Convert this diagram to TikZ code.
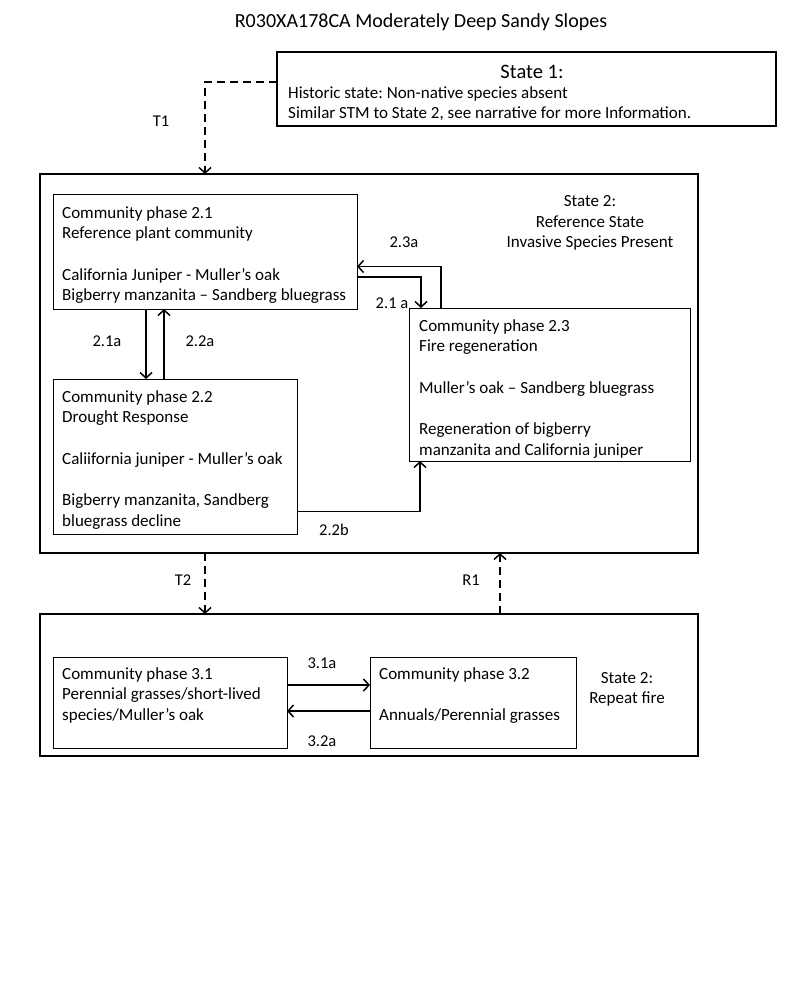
\documentclass[tikz,border=0pt]{standalone}
\usepackage{fontspec}
\setmainfont{Carlito}
\usetikzlibrary{arrows.meta}
\frenchspacing
\begin{document}
\begin{tikzpicture}[x=1pt,y=-1pt,
 statebox/.style={draw, line width=2.6pt, inner sep=0, outer sep=0, anchor=north west},
 phasebox/.style={draw, line width=0.9pt, inner sep=0, outer sep=0, anchor=north west},
 txt/.style={font=\fontsize{17}{20.7}\selectfont, align=left, inner sep=0, anchor=north west},
 ctxt/.style={font=\fontsize{17}{20.3}\selectfont, align=center, inner sep=0},
 lab/.style={font=\fontsize{16.5}{18}\selectfont, inner sep=0},
 arr/.style={line width=1.1pt, -{Straight Barb[length=5.5pt,width=12pt,line width=1.5pt]}},
 darr/.style={arr, line width=1.1pt, dash pattern=on 8pt off 5pt}]
\useasboundingbox[fill=white] (0,0) rectangle (800,984);

\node[font=\fontsize{20}{24}\selectfont, inner sep=0] (title) at (421,22) {R030XA178CA Moderately Deep Sandy Slopes};

% State 1
\node[statebox, minimum width=499pt, minimum height=74pt] (s1) at (277,52) {};
\node[font=\fontsize{20.5}{24}\selectfont, inner sep=0] (s1h) at (532,72) {State 1:};
\node[txt] (s1t) at (288,86) {Historic state: Non-native species absent\\Similar STM to State 2, see narrative for more Information.};

% State 2
\node[statebox, minimum width=658pt, minimum height=379pt] (s2) at (40,174) {};
\node[ctxt] (s2t) at (590,223) {State 2:\\Reference State\\Invasive Species Present};

\node[phasebox, minimum width=304pt, minimum height=115pt] (p21) at (53,194) {};
\node[txt] (p21t) at (62,206) {Community phase 2.1\\Reference plant community\\[20.7pt]California Juniper - Muller’s oak\\Bigberry manzanita – Sandberg bluegrass};

\node[phasebox, minimum width=244pt, minimum height=155pt] (p22) at (53,379) {};
\node[txt] (p22t) at (62,390) {Community phase 2.2\\Drought Response\\[20.7pt]Caliifornia juniper - Muller’s oak\\[20.7pt]Bigberry manzanita, Sandberg\\bluegrass decline};

\node[phasebox, minimum width=281pt, minimum height=153pt] (p23) at (409,308) {};
\node[txt] (p23t) at (419,319) {Community phase 2.3\\Fire regeneration\\[20.7pt]Muller’s oak – Sandberg bluegrass\\[20.7pt]Regeneration of bigberry\\manzanita and California juniper};

% State 3
\node[statebox, minimum width=658pt, minimum height=142pt] (s3) at (40,614) {};
\node[ctxt] (s3t) at (627,689) {State 2:\\Repeat fire};

\node[phasebox, minimum width=234pt, minimum height=91pt] (p31) at (53,657) {};
\node[txt] (p31t) at (62,667) {Community phase 3.1\\Perennial grasses/short-lived\\species/Muller’s oak};

\node[phasebox, minimum width=206pt, minimum height=91pt] (p32) at (370,657) {};
\node[txt] (p32t) at (379,667) {Community phase 3.2\\[20.7pt]Annuals/Perennial grasses};

% transitions
\draw[darr] ([yshift=7pt]s1.west) -| ([xshift=165pt]s2.north west);
\node[lab] (lT1) at (161,121) {T1};

\draw[darr] ([xshift=165pt]s2.south west) -- ([xshift=165pt]s3.north west);
\node[lab] (lT2) at (183,580) {T2};

\draw[darr] ([xshift=460pt]s3.north west) -- ([xshift=460pt]s2.south west);
\node[lab] (lR1) at (471,580) {R1};

\draw[arr] ([xshift=93pt]p21.south west) -- ([xshift=93pt]p22.north west);
\node[lab] (l21a) at (107,341) {2.1a};
\draw[arr] ([xshift=111pt]p22.north west) -- ([xshift=111pt]p21.south west);
\node[lab] (l22a) at (200,341) {2.2a};

\draw[arr] ([xshift=32pt]p23.north west) |- ([yshift=-15pt]p21.east);
\node[lab] (l23a) at (404,242) {2.3a};
\draw[arr] ([yshift=-25.5pt]p21.east) -| ([xshift=12pt]p23.north west);
\node[lab] (l21b) at (392,303) {2.1 a};
\draw[arr] ([yshift=-55pt]p22.east) -| ([xshift=11pt]p23.south west);
\node[lab] (l22b) at (334,530) {2.2b};

\draw[arr] ([yshift=17.5pt]p31.east) -- ([yshift=17.5pt]p32.west);
\node[lab] (l31a) at (322,663) {3.1a};
\draw[arr] ([yshift=-8.5pt]p32.west) -- ([yshift=-8.5pt]p31.east);
\node[lab] (l32a) at (322,741) {3.2a};
\end{tikzpicture}
\end{document}
